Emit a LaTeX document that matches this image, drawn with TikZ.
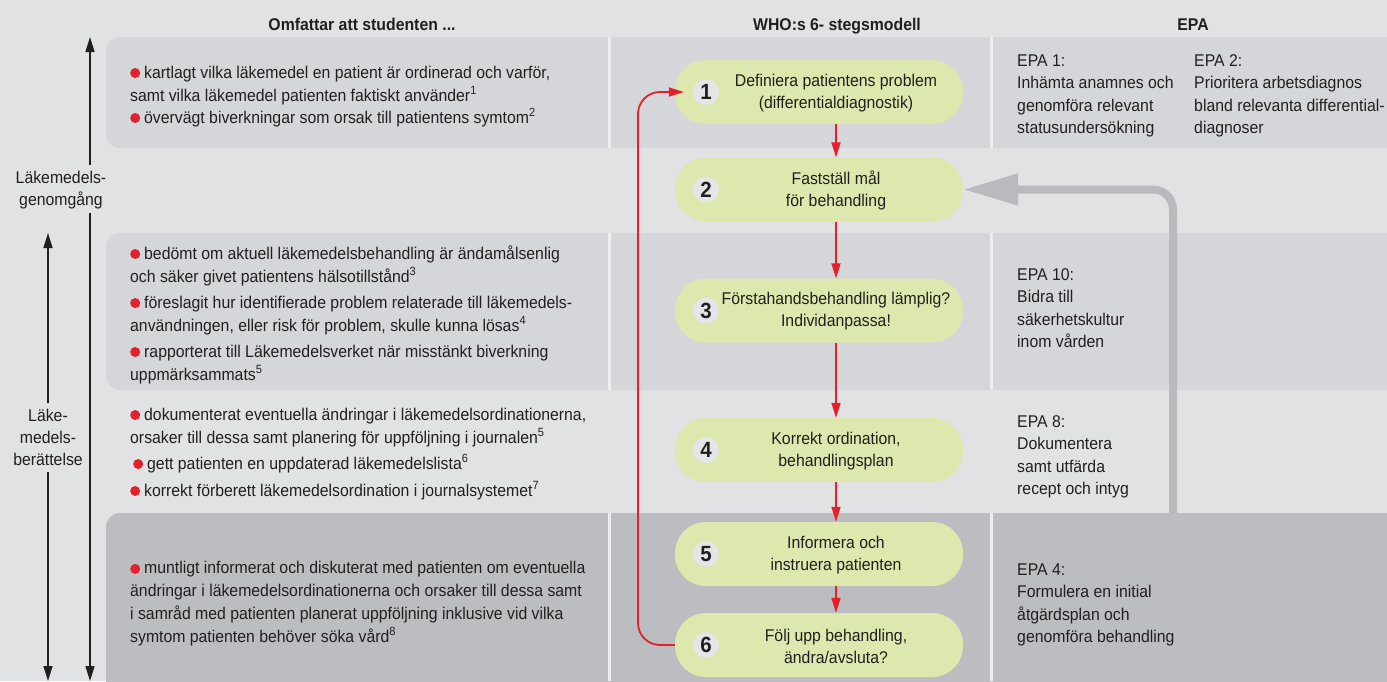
\documentclass[tikz,border=0pt]{standalone}
\usepackage{fontspec}
\setmainfont[FakeStretch=0.93]{Liberation Sans}
\usetikzlibrary{arrows.meta}
\definecolor{bgc}{HTML}{E1E2E4}
\definecolor{bandc}{HTML}{D5D6D9}
\definecolor{banddark}{HTML}{BCBDC1}
\definecolor{sepc}{HTML}{EEEEEF}
\definecolor{pillc}{HTML}{DCE8AD}
\definecolor{numc}{HTML}{E4E5E7}
\definecolor{redc}{HTML}{E3202B}
\definecolor{greyarrc}{HTML}{B9BABE}
\definecolor{txtc}{HTML}{231F20}
\newcommand\bul{\tikz[baseline=0pt]\fill[redc] (5pt,5pt) circle (5pt);\hspace{4pt}}
\begin{document}
\begin{tikzpicture}[x=1pt,y=-1pt,
  every node/.style={text=txtc, inner sep=0pt},
  font=\fontsize{17}{23}\selectfont,
  band/.style={fill=bandc, rounded corners=14pt},
  banddk/.style={fill=banddark, rounded corners=14pt},
  sepline/.style={draw=sepc, line width=3pt},
  pill/.style={fill=pillc, minimum width=288pt, minimum height=64pt, rounded corners=31pt},
  num/.style={circle, fill=numc, minimum size=26pt, font=\fontsize{22}{22}\selectfont\bfseries},
  steptext/.style={align=center, font=\fontsize{17}{22}\selectfont},
  redarr/.style={draw=redc, line width=1.8pt, -{Triangle[length=15pt,width=9pt]}},
  blkarr/.style={draw=txtc, line width=1.5pt, -{Triangle[length=15pt,width=9pt]}},
  greyarr/.style={draw=greyarrc, line width=8pt, -{Triangle[length=55pt,width=30pt]}},
  item/.style={anchor=base west, align=left},
  epa/.style={anchor=base west, align=left, font=\fontsize{17}{22.5}\selectfont},
  head/.style={anchor=base, font=\fontsize{17}{17}\selectfont\bfseries},
  sidelab/.style={anchor=base, align=center, font=\fontsize{17}{22}\selectfont}]
\fill[bgc] (0,0) rectangle (1387,681);
\useasboundingbox (0,0) rectangle (1387,681);
\clip (0,0) rectangle (1387,681);
% bands
\fill[band] (106,37) rectangle (1420,148);
\fill[band] (106,233) rectangle (1420,390);
\fill[banddk] (106,513) rectangle (1420,700);
\foreach \x in {609,991}{
  \draw[sepline] (\x,37) -- (\x,148);
  \draw[sepline] (\x,233) -- (\x,390);
  \draw[sepline] (\x,513) -- (\x,681);
}
% headers
\node[head] (h1) at (362,30) {Omfattar att studenten ...};
\node[head] (h2) at (837,30) {WHO:s 6- stegsmodell};
\node[head] (h3) at (1193,30) {EPA};
% side labels and arrows (base anchor = last line)
\node[sidelab] (lab1) at (61,205) {Läkemedels-\\genomgång};
\node[sidelab] (lab2) at (48,465) {Läke-\\medels-\\berättelse};
\coordinate (a1top) at (90,37);
\coordinate (a1up) at (90,165);
\coordinate (a1lo) at (90,213);
\coordinate (a1bot) at (90,681);
\coordinate (a2top) at (48,233);
\coordinate (a2up) at (48,403);
\coordinate (a2lo) at (48,472);
\coordinate (a2bot) at (48,681);
\draw[blkarr] (a1up) -- (a1top);
\draw[blkarr] (a1lo) -- (a1bot);
\draw[blkarr] (a2up) -- (a2top);
\draw[blkarr] (a2lo) -- (a2bot);
% left items (base anchor = last line)
\node[item] (ia1) at (130,101) {\bul kartlagt vilka läkemedel en patient är ordinerad och varför,\\samt vilka läkemedel patienten faktiskt använder\textsuperscript{1}};
\node[item] (ia2) at (130,123) {\bul övervägt biverkningar som orsak till patientens symtom\textsuperscript{2}};
\node[item] (ib1) at (130,282) {\bul bedömt om aktuell läkemedelsbehandling är ändamålsenlig\\och säker givet patientens hälsotillstånd\textsuperscript{3}};
\node[item] (ib2) at (130,331) {\bul föreslagit hur identifierade problem relaterade till läkemedels-\\användningen, eller risk för problem, skulle kunna lösas\textsuperscript{4}};
\node[item] (ib3) at (130,380) {\bul rapporterat till Läkemedelsverket när misstänkt biverkning\\uppmärksammats\textsuperscript{5}};
\node[item] (ic1) at (130,443) {\bul dokumenterat eventuella ändringar i läkemedelsordinationerna,\\orsaker till dessa samt planering för uppföljning i journalen\textsuperscript{5}};
\node[item] (ic2) at (133,469) {\bul gett patienten en uppdaterad läkemedelslista\textsuperscript{6}};
\node[item] (ic3) at (130,496) {\bul korrekt förberett läkemedelsordination i journalsystemet\textsuperscript{7}};
\node[item, font=\fontsize{17}{22.7}\selectfont] (id1) at (130,642) {\bul muntligt informerat och diskuterat med patienten om eventuella\\ändringar i läkemedelsordinationerna och orsaker till dessa samt\\i samråd med patienten planerat uppföljning inklusive vid vilka\\symtom patienten behöver söka vård\textsuperscript{8}};
% EPA texts
\node[epa] (e1) at (1017,133.5) {EPA 1:\\Inhämta anamnes och\\genomföra relevant\\statusundersökning};
\node[epa] (e2) at (1194,133.5) {EPA 2:\\Prioritera arbetsdiagnos\\bland relevanta differential-\\diagnoser};
\node[epa] (e10) at (1017,347.5) {EPA 10:\\Bidra till\\säkerhetskultur\\inom vården};
\node[epa] (e8) at (1017,494.5) {EPA 8:\\Dokumentera\\samt utfärda\\recept och intyg};
\node[epa] (e4) at (1017,642.5) {EPA 4:\\Formulera en initial\\åtgärdsplan och\\genomföra behandling};
% steps
\node[pill] (n1) at (819,92) {};
\node[pill] (n2) at (819,189.5) {};
\node[pill] (n3) at (819,310.5) {};
\node[pill] (n4) at (819,450) {};
\node[pill] (n5) at (819,554) {};
\node[pill] (n6) at (819,645) {};
\node[num] (c1) at (706,92) {1};
\node[num] (c2) at (706,189.5) {2};
\node[num] (c3) at (706,310.5) {3};
\node[num] (c4) at (706,450) {4};
\node[num] (c5) at (706,554) {5};
\node[num] (c6) at (706,645) {6};
\node[steptext] (t1) at (836,93) {Definiera patientens problem\\(differentialdiagnostik)};
\node[steptext] (t2) at (836,190.5) {Fastställ mål\\för behandling};
\node[steptext] (t3) at (836,311.5) {Förstahandsbehandling lämplig?\\Individanpassa!};
\node[steptext] (t4) at (836,451) {Korrekt ordination,\\behandlingsplan};
\node[steptext] (t5) at (836,555) {Informera och\\instruera patienten};
\node[steptext] (t6) at (836,646) {Följ upp behandling,\\ändra/avsluta?};
% step arrows
\draw[redarr] (n1.south -| t1) -- (n2.north -| t1);
\draw[redarr] (n2.south -| t2) -- (n3.north -| t2);
\draw[redarr] (n3.south -| t3) -- (n4.north -| t3);
\draw[redarr] (n4.south -| t4) -- (n5.north -| t4);
\draw[redarr] (n5.south -| t5) -- (n6.north -| t5);
\coordinate (loopx) at (638,300);
\draw[redarr, rounded corners=22pt, shorten >=-9pt] (n6.west) -| (loopx) |- (n1.west);
% grey feedback arrow
\coordinate (gstart) at (1173,513);
\draw[greyarr, rounded corners=20pt] (gstart) |- (n2.east);
\end{tikzpicture}
\end{document}
